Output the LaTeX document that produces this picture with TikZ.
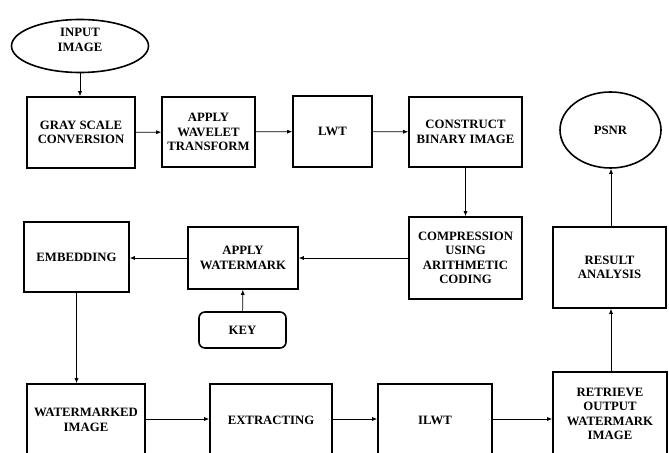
\documentclass[tikz,border=0pt]{standalone}
\usepackage{fontspec}
\setmainfont{Liberation Serif}
\usetikzlibrary{arrows.meta,shapes.geometric}
\begin{document}
\begin{tikzpicture}[x=1bp,y=-1bp,
  box/.style={draw,line width=1.6pt,align=center,inner sep=1pt,
    font=\fontsize{12.8}{14.5}\selectfont\bfseries},
  oval/.style={box,ellipse},
  conn/.style={line width=0.7pt,-{Latex[length=5pt,width=4pt]}}]
\useasboundingbox (0,0) rectangle (669,453);
\clip (0,0) rectangle (669,453);
\fill[white] (0,0) rectangle (669,453);
\node[oval,minimum width=137bp,minimum height=53bp] (input) at (80,46) {};
\node[font=\fontsize{12.8}{14.5}\selectfont\bfseries,align=center] (inputtext) at (80,40) {INPUT\\IMAGE};
\node[box,minimum width=108bp,minimum height=71bp] (gray) at (81,132.5) {GRAY SCALE\\CONVERSION};
\node[box,minimum width=93bp,minimum height=70bp] (wavelet) at (208.5,132) {APPLY\\WAVELET\\TRANSFORM};
\node[box,minimum width=79bp,minimum height=71bp] (lwt) at (332.5,131.5) {LWT};
\node[box,minimum width=113bp,minimum height=70bp] (construct) at (465.5,132) {CONSTRUCT\\BINARY IMAGE};
\node[oval,minimum width=101bp,minimum height=76bp] (psnr) at (610.5,130) {PSNR};
\node[box,minimum width=113bp,minimum height=82bp] (compression) at (465.5,258) {COMPRESSION\\USING\\ARITHMETIC\\CODING};
\node[box,minimum width=113bp,minimum height=81bp] (result) at (609.5,267.5) {RESULT\\ANALYSIS};
\node[box,minimum width=105bp,minimum height=70bp] (embedding) at (76.5,257) {EMBEDDING};
\node[box,minimum width=110bp,minimum height=62bp] (applywm) at (243,258) {APPLY\\WATERMARK};
\node[box,rounded corners=6bp,minimum width=87bp,minimum height=36bp] (key) at (242.5,330) {KEY};
\node[box,minimum width=118bp,minimum height=72bp] (watermarked) at (86,420) {WATERMARKED\\IMAGE};
\node[box,minimum width=122bp,minimum height=72bp] (extracting) at (271,420) {EXTRACTING};
\node[box,minimum width=114bp,minimum height=72bp] (ilwt) at (435,420) {ILWT};
\node[box,minimum width=114bp,minimum height=84bp] (retrieve) at (610,414) {RETRIEVE\\OUTPUT\\WATERMARK\\IMAGE};
\draw[conn] (input) -- (input |- gray.north);
\draw[conn] (gray) -- (wavelet);
\draw[conn] (wavelet) -- (lwt);
\draw[conn] (lwt) -- (construct);
\draw[conn] (construct) -- (compression);
\draw[conn] (compression) -- (applywm);
\draw[conn] (applywm.west) -- (embedding.east |- applywm.west);
\draw[conn] (key) -- (applywm);
\draw[conn] (embedding.south) -- (embedding.south |- watermarked.north);
\draw[conn] (watermarked.east |- 0,419) -- (extracting.west |- 0,419);
\draw[conn] (extracting.east |- 0,419) -- (ilwt.west |- 0,419);
\draw[conn] (ilwt.east |- 0,419) -- (retrieve.west |- 0,419);
\draw[conn] (retrieve.north -| 611,0) -- (result.south -| 611,0);
\draw[conn] (result.north -| 611,0) -- (psnr.south -| 611,0);
\end{tikzpicture}
\end{document}
